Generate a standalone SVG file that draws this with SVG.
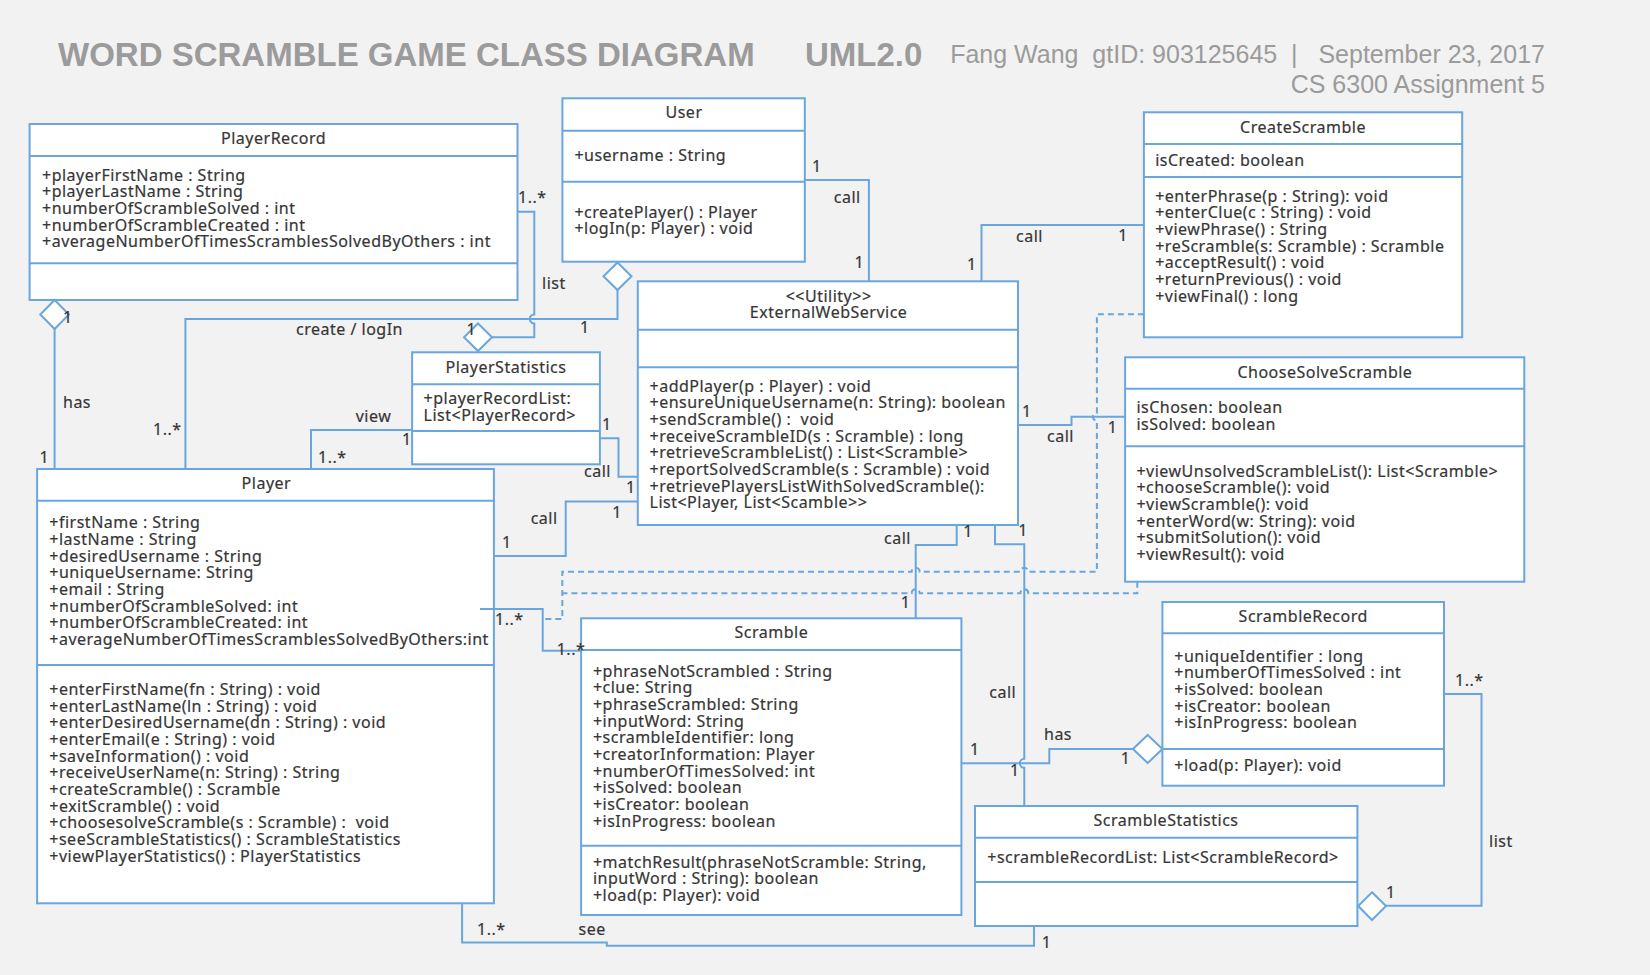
<svg xmlns="http://www.w3.org/2000/svg" width="1650" height="975" viewBox="0 0 1650 975">
<style>
.bg{fill:#f2f2f2}
.box{fill:#fff;stroke:#6aa6de;stroke-width:2}
.dv{stroke:#6aa6de;stroke-width:2}
.t{font-family:"Noto Sans",sans-serif;font-size:16px;fill:#363636;stroke:#363636;stroke-width:0.2px;letter-spacing:0.5px;white-space:pre}
.c{text-anchor:middle}
.ln{fill:none;stroke:#6aa6de;stroke-width:2}
.dash{stroke-dasharray:6 4}
.dia{fill:#fff;stroke:#6aa6de;stroke-width:2}
.hd{font-family:"Liberation Sans",Arial,sans-serif;fill:#9b9b9b;white-space:pre}
</style>
<rect class="bg" x="0" y="0" width="1650" height="975"/>
<g id="header">
<text class="hd" x="58" y="66" font-size="33" font-weight="bold">WORD SCRAMBLE GAME CLASS DIAGRAM</text>
<text class="hd" x="805" y="66" font-size="33" font-weight="bold">UML2.0</text>
<text class="hd" x="1545" y="63" font-size="25" text-anchor="end">Fang Wang  gtID: 903125645  |   September 23, 2017</text>
<text class="hd" x="1545" y="92.6" font-size="25" text-anchor="end">CS 6300 Assignment 5</text>
</g>
<g id="PlayerRecord">
<rect class="box" x="29.6" y="124" width="487.9" height="176"/>
<line class="dv" x1="29.6" y1="156" x2="517.5" y2="156"/>
<line class="dv" x1="29.6" y1="263.3" x2="517.5" y2="263.3"/>
<text class="t c" x="273.6" y="144.3">PlayerRecord</text>
<text class="t" x="42" y="180.7">+playerFirstName : String</text>
<text class="t" x="42" y="197.3">+playerLastName : String</text>
<text class="t" x="42" y="214">+numberOfScrambleSolved : int</text>
<text class="t" x="42" y="230.7">+numberOfScrambleCreated : int</text>
<text class="t" x="42" y="247.3">+averageNumberOfTimesScramblesSolvedByOthers : int</text>
</g>
<g id="User">
<rect class="box" x="562.4" y="98.3" width="242.4" height="163.4"/>
<line class="dv" x1="562.4" y1="130.7" x2="804.8" y2="130.7"/>
<line class="dv" x1="562.4" y1="181.7" x2="804.8" y2="181.7"/>
<text class="t c" x="684" y="118.3">User</text>
<text class="t" x="574.4" y="160.7">+username : String</text>
<text class="t" x="574.4" y="217.7">+createPlayer() : Player</text>
<text class="t" x="574.4" y="234.3">+logIn(p: Player) : void</text>
</g>
<g id="ExternalWebService">
<rect class="box" x="637.8" y="281.3" width="380.2" height="243.7"/>
<line class="dv" x1="637.8" y1="329.7" x2="1018" y2="329.7"/>
<line class="dv" x1="637.8" y1="367.3" x2="1018" y2="367.3"/>
<text class="t c" x="828.6" y="301.7">&lt;&lt;Utility&gt;&gt;</text>
<text class="t c" x="828.6" y="318.3">ExternalWebService</text>
<text class="t" x="649.5" y="391.7">+addPlayer(p : Player) : void</text>
<text class="t" x="649.5" y="408.3">+ensureUniqueUsername(n: String): boolean</text>
<text class="t" x="649.5" y="425">+sendScramble() :  void</text>
<text class="t" x="649.5" y="441.7">+receiveScrambleID(s : Scramble) : long</text>
<text class="t" x="649.5" y="458.3">+retrieveScrambleList() : List&lt;Scramble&gt;</text>
<text class="t" x="649.5" y="475">+reportSolvedScramble(s : Scramble) : void</text>
<text class="t" x="649.5" y="491.7">+retrievePlayersListWithSolvedScramble():</text>
<text class="t" x="649.5" y="508.3">List&lt;Player, List&lt;Scamble&gt;&gt;</text>
</g>
<g id="CreateScramble">
<rect class="box" x="1143.9" y="112.3" width="318.3" height="225"/>
<line class="dv" x1="1143.9" y1="144" x2="1462.2" y2="144"/>
<line class="dv" x1="1143.9" y1="177" x2="1462.2" y2="177"/>
<text class="t c" x="1303" y="133.3">CreateScramble</text>
<text class="t" x="1155.2" y="165.7">isCreated: boolean</text>
<text class="t" x="1155.2" y="201.7">+enterPhrase(p : String): void</text>
<text class="t" x="1155.2" y="218.3">+enterClue(c : String) : void</text>
<text class="t" x="1155.2" y="235">+viewPhrase() : String</text>
<text class="t" x="1155.2" y="251.7">+reScramble(s: Scramble) : Scramble</text>
<text class="t" x="1155.2" y="268.3">+acceptResult() : void</text>
<text class="t" x="1155.2" y="285">+returnPrevious() : void</text>
<text class="t" x="1155.2" y="301.7">+viewFinal() : long</text>
</g>
<g id="ChooseSolveScramble">
<rect class="box" x="1125.1" y="357.3" width="399.2" height="224.4"/>
<line class="dv" x1="1125.1" y1="388.7" x2="1524.3" y2="388.7"/>
<line class="dv" x1="1125.1" y1="446.3" x2="1524.3" y2="446.3"/>
<text class="t c" x="1324.9" y="378.3">ChooseSolveScramble</text>
<text class="t" x="1136.4" y="413.3">isChosen: boolean</text>
<text class="t" x="1136.4" y="430">isSolved: boolean</text>
<text class="t" x="1136.4" y="476.7">+viewUnsolvedScrambleList(): List&lt;Scramble&gt;</text>
<text class="t" x="1136.4" y="493.3">+chooseScramble(): void</text>
<text class="t" x="1136.4" y="510">+viewScramble(): void</text>
<text class="t" x="1136.4" y="526.7">+enterWord(w: String): void</text>
<text class="t" x="1136.4" y="543.3">+submitSolution(): void</text>
<text class="t" x="1136.4" y="560">+viewResult(): void</text>
</g>
<g id="PlayerStatistics">
<rect class="box" x="412.1" y="352.3" width="187.8" height="112"/>
<line class="dv" x1="412.1" y1="384.3" x2="599.9" y2="384.3"/>
<line class="dv" x1="412.1" y1="431" x2="599.9" y2="431"/>
<text class="t c" x="506" y="373.3">PlayerStatistics</text>
<text class="t" x="423.6" y="404.3">+playerRecordList:</text>
<text class="t" x="423.6" y="421">List&lt;PlayerRecord&gt;</text>
</g>
<g id="Player">
<rect class="box" x="37.1" y="469" width="456.8" height="434.3"/>
<line class="dv" x1="37.1" y1="500.7" x2="493.9" y2="500.7"/>
<line class="dv" x1="37.1" y1="665" x2="493.9" y2="665"/>
<text class="t c" x="266.4" y="489">Player</text>
<text class="t" x="49.3" y="528.3">+firstName : String</text>
<text class="t" x="49.3" y="545">+lastName : String</text>
<text class="t" x="49.3" y="561.7">+desiredUsername : String</text>
<text class="t" x="49.3" y="578.3">+uniqueUsername: String</text>
<text class="t" x="49.3" y="595">+email : String</text>
<text class="t" x="49.3" y="611.7">+numberOfScrambleSolved: int</text>
<text class="t" x="49.3" y="628.3">+numberOfScrambleCreated: int</text>
<text class="t" x="49.3" y="645">+averageNumberOfTimesScramblesSolvedByOthers:int</text>
<text class="t" x="49.3" y="695">+enterFirstName(fn : String) : void</text>
<text class="t" x="49.3" y="711.7">+enterLastName(ln : String) : void</text>
<text class="t" x="49.3" y="728.3">+enterDesiredUsername(dn : String) : void</text>
<text class="t" x="49.3" y="745">+enterEmail(e : String) : void</text>
<text class="t" x="49.3" y="761.7">+saveInformation() : void</text>
<text class="t" x="49.3" y="778.3">+receiveUserName(n: String) : String</text>
<text class="t" x="49.3" y="795">+createScramble() : Scramble</text>
<text class="t" x="49.3" y="811.7">+exitScramble() : void</text>
<text class="t" x="49.3" y="828.3">+choosesolveScramble(s : Scramble) :  void</text>
<text class="t" x="49.3" y="845">+seeScrambleStatistics() : ScrambleStatistics</text>
<text class="t" x="49.3" y="861.7">+viewPlayerStatistics() : PlayerStatistics</text>
</g>
<g id="Scramble">
<rect class="box" x="581.1" y="618.3" width="380.3" height="296.7"/>
<line class="dv" x1="581.1" y1="650" x2="961.4" y2="650"/>
<line class="dv" x1="581.1" y1="845.7" x2="961.4" y2="845.7"/>
<text class="t c" x="771.4" y="638.3">Scramble</text>
<text class="t" x="592.9" y="676.7">+phraseNotScrambled : String</text>
<text class="t" x="592.9" y="693.3">+clue: String</text>
<text class="t" x="592.9" y="710">+phraseScrambled: String</text>
<text class="t" x="592.9" y="726.7">+inputWord: String</text>
<text class="t" x="592.9" y="743.3">+scrambleIdentifier: long</text>
<text class="t" x="592.9" y="760">+creatorInformation: Player</text>
<text class="t" x="592.9" y="776.7">+numberOfTimesSolved: int</text>
<text class="t" x="592.9" y="793.3">+isSolved: boolean</text>
<text class="t" x="592.9" y="810">+isCreator: boolean</text>
<text class="t" x="592.9" y="826.7">+isInProgress: boolean</text>
<text class="t" x="592.9" y="867.7">+matchResult(phraseNotScramble: String,</text>
<text class="t" x="592.9" y="884.3">inputWord : String): boolean</text>
<text class="t" x="592.9" y="901">+load(p: Player): void</text>
</g>
<g id="ScrambleRecord">
<rect class="box" x="1162.4" y="602" width="281.6" height="183.7"/>
<line class="dv" x1="1162.4" y1="633.3" x2="1444" y2="633.3"/>
<line class="dv" x1="1162.4" y1="749" x2="1444" y2="749"/>
<text class="t c" x="1303.2" y="621.7">ScrambleRecord</text>
<text class="t" x="1174.3" y="661.7">+uniqueIdentifier : long</text>
<text class="t" x="1174.3" y="678.3">+numberOfTimesSolved : int</text>
<text class="t" x="1174.3" y="695">+isSolved: boolean</text>
<text class="t" x="1174.3" y="711.7">+isCreator: boolean</text>
<text class="t" x="1174.3" y="728.3">+isInProgress: boolean</text>
<text class="t" x="1174.3" y="771">+load(p: Player): void</text>
</g>
<g id="ScrambleStatistics">
<rect class="box" x="975" y="806" width="382.4" height="120"/>
<line class="dv" x1="975" y1="837.7" x2="1357.4" y2="837.7"/>
<line class="dv" x1="975" y1="882" x2="1357.4" y2="882"/>
<text class="t c" x="1166" y="826">ScrambleStatistics</text>
<text class="t" x="987.3" y="863.3">+scrambleRecordList: List&lt;ScrambleRecord&gt;</text>
</g>
<g id="connectors">
<path class="ln" d="M54.6 329 V469"/>
<polygon class="dia" points="54.6,300 68.9,314.5 54.6,329 40.3,314.5"/>
<path class="ln" d="M185.4 469 V319 H617.5 V290"/>
<polygon class="dia" points="617.5,262.5 631.5,276.3 617.5,290 603.5,276.3"/>
<path class="ln" d="M517.5 211.7 H534.3 V314.5 A4.5 4.5 0 0 0 534.3 323.5 V337.3 H492"/>
<polygon class="dia" points="478,323.5 492,337.3 478,351 464,337.3"/>
<path class="ln" d="M311 469 V430 H412.1"/>
<path class="ln" d="M804.8 180 H868.9 V281.3"/>
<path class="ln" d="M981.5 281.3 V225 H1143.9"/>
<path class="ln" d="M1018 425 H1071.5 V416.7 H1125.1"/>
<path class="ln" d="M599.9 438.3 H618.5 V476.7 H637.8"/>
<path class="ln" d="M493.9 556 H565.7 V501.5 H637.8"/>
<path class="ln" d="M480 609 H542.7 V650.7 H581.1"/>
<path class="ln" d="M956.7 525 V545 H915.7 V618.3"/>
<path class="ln" d="M995 525 V544.3 H1024.3 V758.8 A4.5 4.5 0 0 0 1024.3 767.8 V806"/>
<path class="ln" d="M961.4 763.3 H1049.3 V749 H1133"/>
<polygon class="dia" points="1147.7,735 1162.4,749 1147.7,763 1133,749"/>
<path class="ln" d="M1444 694 H1481.5 V905.7 H1386"/>
<polygon class="dia" points="1372,892.3 1386,906 1372,920 1358.2,906"/>
<path class="ln" d="M462.1 903.3 V942.5 H606.8 V945.7 H1034 V926"/>
<path class="ln dash" d="M1143.9 314.3 H1096.9 V412.7 A4 4 0 0 0 1096.9 420.7 V571.7 H1028.3 A4 4 0 0 0 1020.3 571.7 H919.7 A4 4 0 0 0 911.7 571.7 H562.3 V619 H543.3"/>
<path class="ln dash" d="M1137.3 581.7 V593.3 H1028.3 A4 4 0 0 0 1020.3 593.3 H919.7 A4 4 0 0 0 911.7 593.3 H562.3"/>
</g>
<g id="labels">
<text class="t" x="63" y="323">1</text>
<text class="t" x="63" y="408">has</text>
<text class="t" x="39.6" y="462.7">1</text>
<text class="t" x="296" y="335">create / logIn</text>
<text class="t" x="153" y="435">1..*</text>
<text class="t" x="580" y="333.3">1</text>
<text class="t" x="518" y="203.3">1..*</text>
<text class="t" x="542" y="289.3">list</text>
<text class="t" x="466.4" y="335.3">1</text>
<text class="t" x="355.7" y="421.7">view</text>
<text class="t" x="402" y="445">1</text>
<text class="t" x="318" y="463.3">1..*</text>
<text class="t" x="812" y="171.7">1</text>
<text class="t" x="833.8" y="203.3">call</text>
<text class="t" x="854.4" y="268.3">1</text>
<text class="t" x="1016" y="241.7">call</text>
<text class="t" x="967" y="270">1</text>
<text class="t" x="1118.3" y="240.7">1</text>
<text class="t" x="1022" y="416.7">1</text>
<text class="t" x="1047" y="441.7">call</text>
<text class="t" x="1107.7" y="433.3">1</text>
<text class="t" x="602" y="430">1</text>
<text class="t" x="584" y="477.3">call</text>
<text class="t" x="626" y="493.3">1</text>
<text class="t" x="530.7" y="524">call</text>
<text class="t" x="502" y="548.3">1</text>
<text class="t" x="612.3" y="517.7">1</text>
<text class="t" x="495" y="625">1..*</text>
<text class="t" x="556.7" y="655">1..*</text>
<text class="t" x="884" y="544.3">call</text>
<text class="t" x="963.3" y="537.3">1</text>
<text class="t" x="900.7" y="608.3">1</text>
<text class="t" x="1018.3" y="536">1</text>
<text class="t" x="989.3" y="697.7">call</text>
<text class="t" x="970" y="755">1</text>
<text class="t" x="1010" y="776">1</text>
<text class="t" x="1044" y="740">has</text>
<text class="t" x="1120.7" y="764">1</text>
<text class="t" x="1455" y="686">1..*</text>
<text class="t" x="1489" y="846.7">list</text>
<text class="t" x="1386" y="897.7">1</text>
<text class="t" x="477" y="935">1..*</text>
<text class="t" x="578.6" y="935">see</text>
<text class="t" x="1041.8" y="948.3">1</text>
</g>
</svg>
